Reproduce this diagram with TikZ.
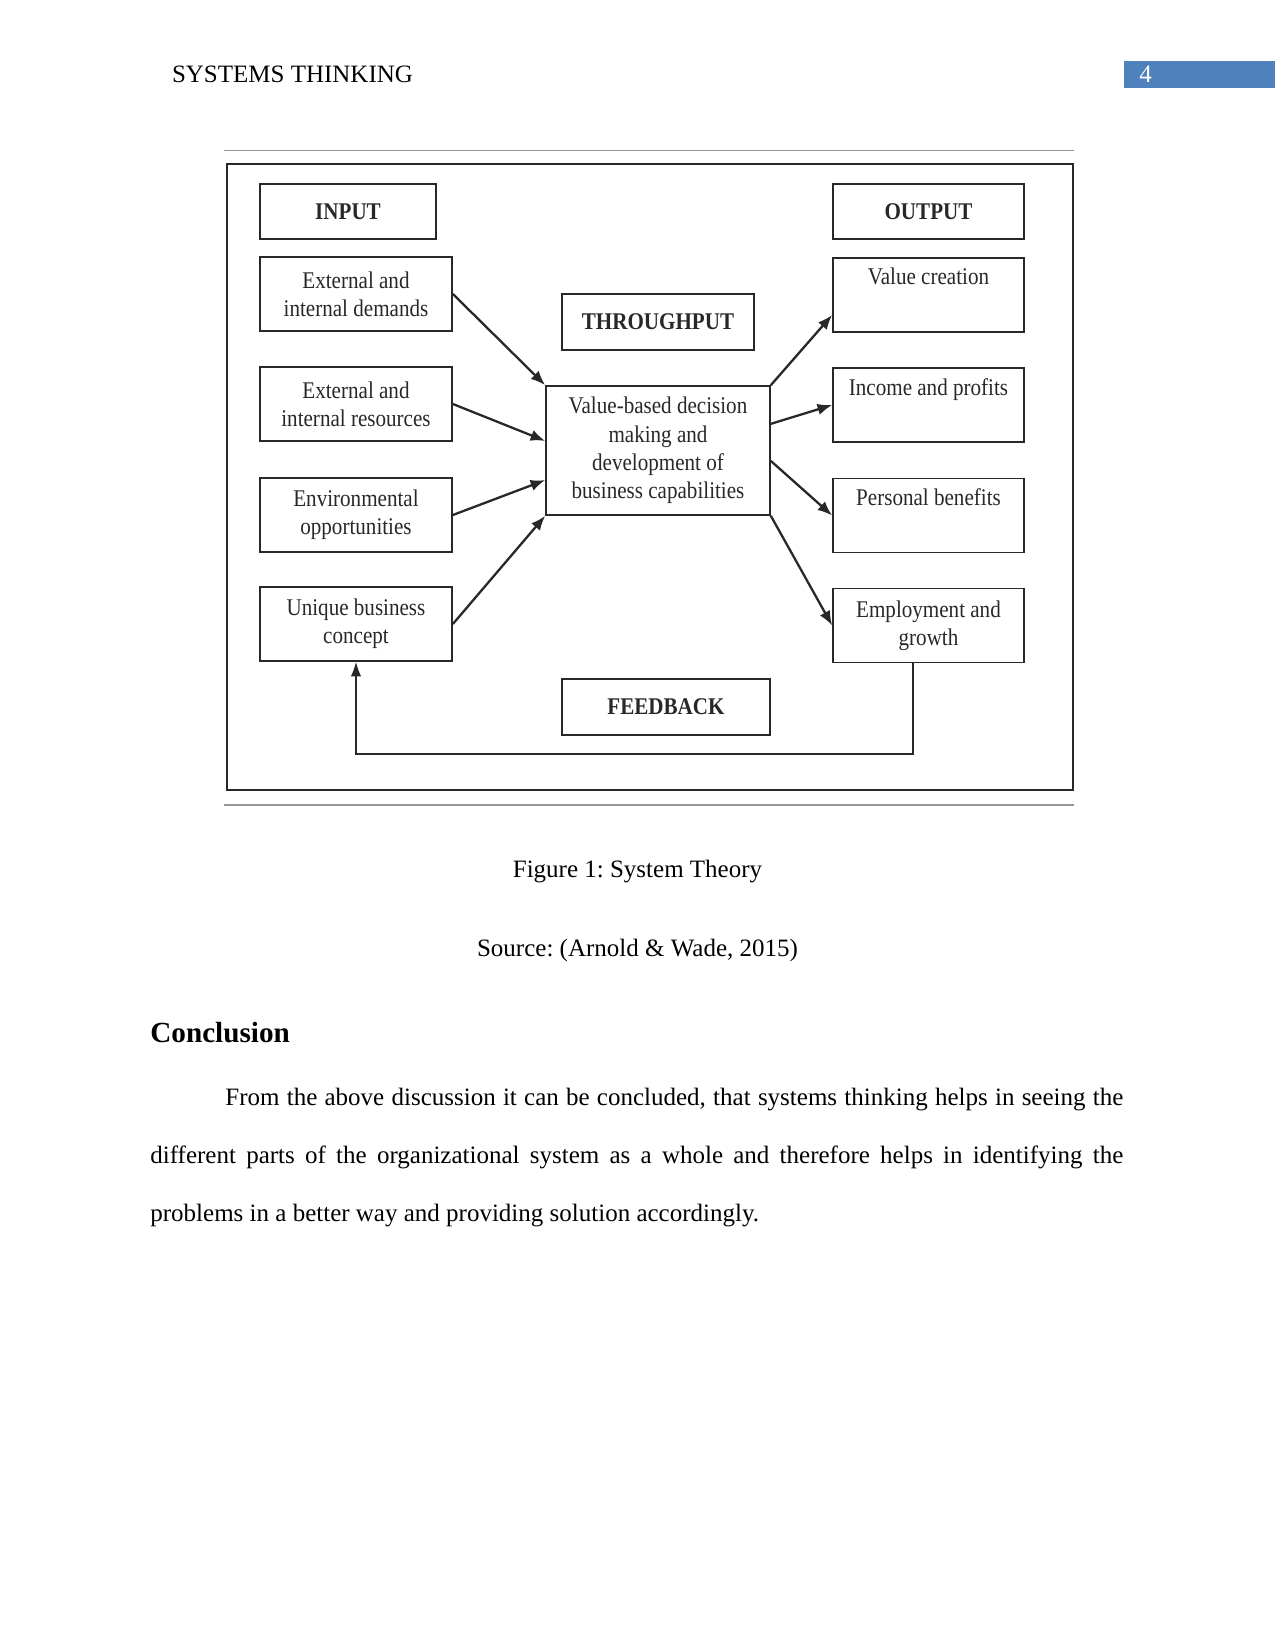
\documentclass[tikz,border=0pt]{standalone}
\usepackage{fontspec}
\setmainfont{Liberation Serif}
\newfontfamily\figfont[FakeStretch=0.88]{Liberation Serif}
\usetikzlibrary{arrows.meta}
\usepackage{xcolor}
\definecolor{hdblue}{RGB}{79,129,189}
\definecolor{figline}{RGB}{40,40,40}
\definecolor{rulegray}{RGB}{150,150,150}
\frenchspacing
\tikzset{
    box/.style={
        draw=figline,line width=0.8pt,inner sep=2pt,align=center,
        text=figline,font=\figfont\fontsize{11.5}{13.6}\selectfont
    },
    headbox/.style={
        box,font=\figfont\bfseries\fontsize{11.5}{13.6}\selectfont,
        minimum height=26.6pt
    },
    inbox/.style={box,minimum width=92.2pt,minimum height=35.5pt},
    outbox/.style={box,minimum width=91.7pt,minimum height=35.5pt},
    arrow/.style={
        -{Latex[length=7pt,width=5.5pt]},line width=1.1pt,draw=figline
    },
    pagetext/.style={inner sep=0pt,font=\fontsize{12}{14}\selectfont}
}

\begin{document}
\begin{tikzpicture}[x=0.48pt,y=-0.48pt]
\useasboundingbox (0,0) rectangle (1275,1651);

% running head
\fill[hdblue] (1124.4,61) rectangle (1275,88.4);
\node[pagetext,anchor=base west] (runhead) at (171.6,83) {SYSTEMS THINKING};
\node[pagetext,anchor=base,text=white] (pageno) at (1145.5,83) {4};

% figure frame
\draw[rulegray,line width=0.8pt] (224,150.5) -- (1074,150.5);
\draw[rulegray,line width=0.8pt] (224,805) -- (1074,805);
\draw[figline,line width=1pt] (227,164) rectangle (1073,790);

\node[headbox,minimum width=84.5pt] (input) at (348,211.5) {INPUT};
\node[headbox,minimum width=91.7pt] (output) at (928.5,211.5) {OUTPUT};
\node[headbox,minimum width=92.2pt,minimum height=26.9pt] (thru) at (658,322) {THROUGHPUT};
\node[headbox,minimum width=99.8pt,minimum height=26.9pt] (feedback) at (666,707) {FEEDBACK};

\node[inbox] (demands) at (356,294) {External and\\internal demands};
\node[inbox] (resources) at (356,404) {External and\\internal resources};
\node[inbox] (envopp) at (356,515) {Environmental\\opportunities};
\node[inbox] (uniq) at (356,624) {Unique business\\concept};

\node[box,minimum width=107.5pt,minimum height=61.9pt] (core) at (658,450.5)
{Value-based decision\\making and\\development of\\business capabilities};

\node[outbox] (valcre) at (928.5,295) {Value creation\\\strut};
\node[outbox] (income) at (928.5,405) {Income and profits\\\strut};
\node[outbox] (personal) at (928.5,515.5) {Personal benefits\\\strut};
\node[outbox] (employ) at (928.5,625.5) {Employment and\\growth};

\draw[arrow](demands.east)--(core.north west);
\draw[arrow](resources.east)--([yshift=4.6pt]core.west);
\draw[arrow](envopp.east)--([yshift=-14.2pt]core.west);
\draw[arrow](uniq.east)--(core.south west);

\draw[arrow](core.north east)--([yshift=-9.6pt]valcre.west);
\draw[arrow]([yshift=12.8pt]core.east)--(income.west);
\draw[arrow]([yshift=-5pt]core.east)--(personal.west);
\draw[arrow](core.south east)--(employ.west);

\coordinate (fbrow) at (0,754);
\draw[-{Latex[length=7pt,width=5pt]},line width=0.7pt,draw=figline]
([xshift=-7.4pt]employ.south) -- ([xshift=-7.4pt]employ.south |- fbrow) -| (uniq.south);

% caption and text
\node[pagetext,anchor=base] (figcap) at (637.5,877) {Figure 1: System Theory};
\node[pagetext,anchor=base] (source) at (637.5,956) {Source: (Arnold \& Wade, 2015)};
\node[inner sep=0pt,anchor=base west,font=\bfseries\fontsize{14}{16}\selectfont] (concl) at (150,1042) {Conclusion};
\node[pagetext,anchor=base west] (para) at (150,1105.5)
{\parbox[t]{467pt}{\baselineskip=27.8pt\emergencystretch=20pt
\hspace*{36pt}From the above discussion it can be concluded, that systems thinking helps in seeing the\linebreak
different parts of the organizational system as a whole and therefore helps in identifying the\linebreak
problems in a better way and providing solution accordingly.}};

\end{tikzpicture}
\end{document}
